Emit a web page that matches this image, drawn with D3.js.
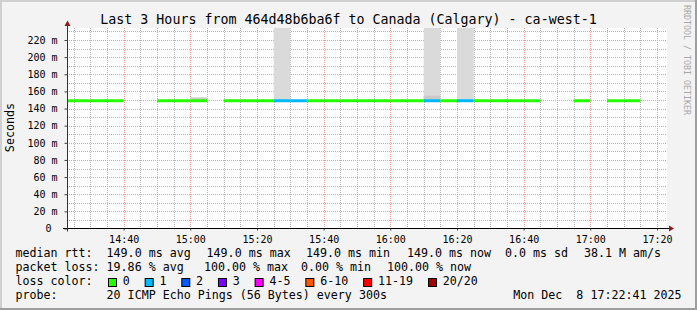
<!DOCTYPE html>
<html>
<head>
<meta charset="utf-8">
<script src="https://cdn.jsdelivr.net/npm/d3@7"></script>
<style>
html, body { margin: 0; padding: 0; background: #fff; }
text { font-family: "DejaVu Sans Mono", monospace; }
</style>
</head>
<body>
<div id="chart"></div>
<script>
// Step end times (5 min steps), each value covers the 5 minutes before it
const times = ["14:25","14:30","14:35","14:40","14:45","14:50","14:55","15:00","15:05","15:10",
  "15:15","15:20","15:25","15:30","15:35","15:40","15:45","15:50","15:55","16:00",
  "16:05","16:10","16:15","16:20","16:25","16:30","16:35","16:40","16:45","16:50",
  "16:55","17:00","17:05","17:10","17:15","17:20"];

// median rtt in ms (null = no answer)
const median = [149,149,149,149,null,null,149,149,149,null,
  149,149,149,149,149,149,149,149,149,149,
  149,149,149,149,149,149,149,149,149,null,
  null,149,null,149,149,null];

// lost pings out of 20
const loss = [0,0,0,0,20,20,0,0,0,20,
  0,0,0,1,1,0,0,0,0,0,
  0,0,1,0,1,0,0,0,0,20,
  20,0,20,0,0,20];

// smoke tops in ms: outer (light) and inner (darker) bands
const smokeOuter = [null,null,null,null,null,null,null,null,null,null,
  null,null,null,300,null,null,null,null,null,null,
  null,null,300,null,300,null,null,null,null,null,
  null,null,null,null,null,null];
const smokeInner = [null,null,null,null,null,null,null,null,153,null,
  150.5,null,null,null,null,null,null,null,null,null,
  null,null,155,null,null,null,null,null,null,null,
  null,null,null,null,null,null];

const yTicks = [0,20,40,60,80,100,120,140,160,180,200,220];
const xTicks = ["14:40","15:00","15:20","15:40","16:00","16:20","16:40","17:00","17:20"];

const lossLabels = ["0","1","2","3","4-5","6-10","11-19","20/20"];
const lossMax = [0,1,2,3,5,10,19,20];
const lossColors = ["#26ff00","#00b8ff","#0059ff","#7e00ff","#ff00ff","#ff5500","#ff0000","#a10000"];

const rttStats = ["149.0 ms avg","149.0 ms max","149.0 ms min","149.0 ms now","0.0 ms sd","38.1 M am/s"];
const lossStats = ["19.86 % avg","100.00 % max","0.00 % min","100.00 % now"];
const probeText = "20 ICMP Echo Pings (56 Bytes) every 300s";
const stamp = "Mon Dec  8 17:22:41 2025";
const title = "Last 3 Hours from 464d48b6ba6f to Canada (Calgary) - ca-west-1";

const W = 697, H = 310;
const plot = { left: 67, right: 667, top: 28, bottom: 228.5 };
const parseT = d3.utcParse("%H:%M");
const keepSpaces = s => s.replace(/ /g, "\u00a0");

const svg = d3.select("#chart").append("svg")
  .attr("width", W).attr("height", H);

// background and 3D frame
svg.append("rect").attr("width", W).attr("height", H).attr("fill", "#f3f3f3");
svg.append("path").attr("d", `M0,${H} V0 H${W}`).attr("fill", "none")
  .attr("stroke", "#cfcfcf").attr("stroke-width", 4);
svg.append("path").attr("d", `M0,${H} H${W} V0`).attr("fill", "none")
  .attr("stroke", "#9e9e9e").attr("stroke-width", 4);

// scales
const x = d3.scaleUtc()
  .domain([parseT("14:23"), parseT("17:23")])
  .range([plot.left, plot.right]);
const y = d3.scaleLinear()
  .domain([0, 234])
  .range([plot.bottom, plot.top]);

// canvas
svg.append("rect")
  .attr("x", plot.left).attr("y", plot.top)
  .attr("width", plot.right - plot.left).attr("height", plot.bottom - plot.top)
  .attr("fill", "#fff");

svg.append("clipPath").attr("id", "plotclip")
  .append("rect")
  .attr("x", plot.left).attr("y", plot.top)
  .attr("width", plot.right - plot.left).attr("height", plot.bottom - plot.top);

// grid: minor first, major on top
const grid = svg.append("g");
const hLines = d3.range(10, 240, 10).filter(v => y(v) >= plot.top);
const vLines = x.ticks(d3.utcMinute.every(5));
const isMajorV = d => d.getUTCMinutes() % 20 === 0;

grid.selectAll(".vminor").data(vLines.filter(d => !isMajorV(d))).enter().append("line")
  .attr("class", "vminor")
  .attr("x1", d => Math.round(x(d)) + 0.5).attr("x2", d => Math.round(x(d)) + 0.5)
  .attr("y1", plot.top).attr("y2", plot.bottom)
  .attr("stroke", "#b4b4b4")
  .attr("stroke-dasharray", "1,1");
grid.selectAll(".hminor").data(hLines.filter(v => v % 20 !== 0)).enter().append("line")
  .attr("class", "hminor")
  .attr("x1", plot.left).attr("x2", plot.right)
  .attr("y1", d => Math.round(y(d)) + 0.5).attr("y2", d => Math.round(y(d)) + 0.5)
  .attr("stroke", "#b4b4b4")
  .attr("stroke-dasharray", "1,1");
grid.selectAll(".vmajor").data(vLines.filter(isMajorV)).enter().append("line")
  .attr("class", "vmajor")
  .attr("x1", d => Math.round(x(d)) + 0.5).attr("x2", d => Math.round(x(d)) + 0.5)
  .attr("y1", plot.top).attr("y2", plot.bottom)
  .attr("stroke", "#f09a9a")
  .attr("stroke-dasharray", "1,1");
grid.selectAll(".hmajor").data(hLines.filter(v => v % 20 === 0)).enter().append("line")
  .attr("class", "hmajor")
  .attr("x1", plot.left).attr("x2", plot.right)
  .attr("y1", d => Math.round(y(d)) + 0.5).attr("y2", d => Math.round(y(d)) + 0.5)
  .attr("stroke", "#f09a9a")
  .attr("stroke-dasharray", "1,1");

// data rows
const rows = times.map((t, i) => ({
  end: parseT(t),
  start: d3.utcMinute.offset(parseT(t), -5),
  median: median[i],
  loss: loss[i],
  outer: smokeOuter[i],
  inner: smokeInner[i]
}));

const marks = svg.append("g").attr("clip-path", "url(#plotclip)");

// smoke
marks.selectAll(".outer").data(rows.filter(d => d.outer != null && d.median != null))
  .enter().append("rect")
  .attr("x", d => x(d.start)).attr("width", d => x(d.end) - x(d.start))
  .attr("y", d => y(d.outer)).attr("height", d => y(d.median) - y(d.outer))
  .attr("fill", "#dadada");
marks.selectAll(".inner").data(rows.filter(d => d.inner != null && d.median != null))
  .enter().append("rect")
  .attr("x", d => x(d.start)).attr("width", d => x(d.end) - x(d.start))
  .attr("y", d => y(d.inner)).attr("height", d => y(d.median) - y(d.inner))
  .attr("fill", "#c9c9c9");

// median line coloured by loss
const lossColor = l => lossColors[lossMax.findIndex(m => l <= m)];
marks.selectAll(".med").data(rows.filter(d => d.median != null))
  .enter().append("line")
  .attr("x1", d => x(d.start)).attr("x2", d => x(d.end))
  .attr("y1", d => y(d.median)).attr("y2", d => y(d.median))
  .attr("stroke", d => lossColor(d.loss))
  .attr("stroke-width", 3);

// axes
const yAxis = svg.append("g")
  .attr("transform", `translate(${plot.left + 0.5},0)`)
  .call(d3.axisLeft(y).tickValues(yTicks).tickSize(3).tickPadding(7)
    .tickFormat(v => v === 0 ? keepSpaces("0 ") : keepSpaces(v + " m")));
yAxis.select(".domain").remove();
yAxis.selectAll("line").attr("stroke", "#444");
yAxis.selectAll("text")
  .style("font-family", "DejaVu Sans Mono")
  .style("font-size", "10px")
  .attr("fill", "#000");

const xAxis = svg.append("g")
  .attr("transform", `translate(0,${plot.bottom})`)
  .call(d3.axisBottom(x).tickValues(xTicks.map(parseT)).tickSize(2).tickPadding(5)
    .tickFormat(d3.utcFormat("%H:%M")));
xAxis.select(".domain").remove();
xAxis.selectAll("line").attr("stroke", "#444");
xAxis.selectAll("text")
  .style("font-family", "DejaVu Sans Mono")
  .style("font-size", "10px")
  .attr("fill", "#000");

// axis lines with arrows
svg.append("line")
  .attr("x1", 63).attr("x2", 669)
  .attr("y1", plot.bottom).attr("y2", plot.bottom)
  .attr("stroke", "#000");
svg.append("line")
  .attr("x1", plot.left + 0.5).attr("x2", plot.left + 0.5)
  .attr("y1", plot.bottom + 3).attr("y2", 24)
  .attr("stroke", "#333");
svg.append("path")
  .attr("d", `M669,225.5 L674,228.5 L669,231.5 Z`)
  .attr("fill", "#8b1a1a");
svg.append("path")
  .attr("d", `M64.5,26 L67.5,20.5 L70.5,26 Z`)
  .attr("fill", "#8b1a1a");

// title
svg.append("text")
  .attr("x", W / 2).attr("y", 24)
  .attr("text-anchor", "middle")
  .style("font-size", "13.3px")
  .text(title);

// y label
svg.append("text")
  .attr("transform", "translate(14,127.5) rotate(-90)")
  .attr("text-anchor", "middle")
  .style("font-size", "11.7px")
  .text("Seconds");

// watermark
svg.append("text")
  .attr("transform", "translate(684,5) rotate(90)")
  .style("font-size", "8.3px")
  .attr("fill", "#a8a8a8")
  .text("RRDTOOL / TOBI OETIKER");

// legend
const legend = svg.append("g").style("font-size", "11.65px");
const col0 = 15.5, col1 = 106.6;
const base = [257.3, 271.3, 285.3, 299.3];

legend.append("text").attr("x", col0).attr("y", base[0]).text("median rtt:");
const rttX = [106.6, 206.6, 306, 407, 505, 584];
rttStats.forEach((s, i) => legend.append("text").attr("x", rttX[i]).attr("y", base[0]).text(keepSpaces(s)));

legend.append("text").attr("x", col0).attr("y", base[1]).text("packet loss:");
const lossX = [106.6, 204, 301, 387];
lossStats.forEach((s, i) => legend.append("text").attr("x", lossX[i]).attr("y", base[1]).text(keepSpaces(s)));

legend.append("text").attr("x", col0).attr("y", base[2]).text("loss color:");
let bx = 108.5;
lossLabels.forEach((lab, i) => {
  legend.append("rect")
    .attr("x", bx).attr("y", 278.5).attr("width", 8).attr("height", 8)
    .attr("fill", lossColors[i]).attr("stroke", "#000");
  legend.append("text").attr("x", bx + 14.3).attr("y", base[2]).text(lab);
  bx += lab.length * 7.05 + 29.6;
});

legend.append("text").attr("x", col0).attr("y", base[3]).text("probe:");
legend.append("text").attr("x", col1).attr("y", base[3]).text(probeText);
legend.append("text").attr("x", 681.5).attr("y", base[3])
  .attr("text-anchor", "end").text(keepSpaces(stamp));
</script>
</body>
</html>
